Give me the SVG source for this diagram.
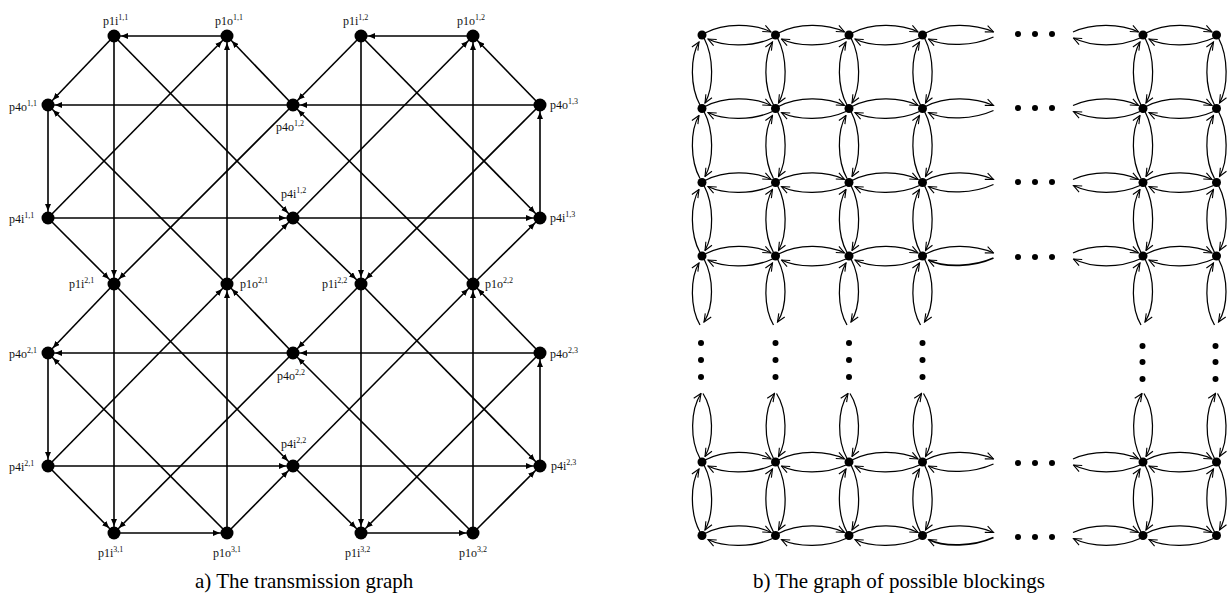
<svg xmlns="http://www.w3.org/2000/svg" xmlns:xlink="http://www.w3.org/1999/xlink" width="1229" height="597" viewBox="0 0 1229 597">
<style>
.e{stroke:#000;stroke-width:1.6;fill:none;marker-end:url(#ah)}
.n{fill:#000}
.lb{font-family:"Liberation Serif","Times New Roman",serif;font-size:12px;fill:#111}
.sp{font-size:8px}
.a{stroke:#000;stroke-width:1.25;fill:none;marker-end:url(#oa)}
.ab{stroke:#000;stroke-width:1.8;fill:none;marker-end:url(#oa)}
.cap{font-family:"Liberation Serif","Times New Roman",serif;font-size:21px;fill:#000}
</style>
<defs>
<marker id="ah" viewBox="0 0 7 6" refX="14" refY="3" markerWidth="7" markerHeight="6" markerUnits="userSpaceOnUse" orient="auto"><path d="M0,0 L7,3 L0,6 z" fill="#000"/></marker>
<marker id="oa" viewBox="-1 -1 10 9" refX="8" refY="3.5" markerWidth="10" markerHeight="9" markerUnits="userSpaceOnUse" orient="auto"><path d="M0,0 L8,3.5 L0,7" fill="none" stroke="#000" stroke-width="1.1"/></marker>
<g id="hp"><path class="a" d="M3,-2 C22,-12 51,-12 69,-3"/><path class="a" d="M70.5,3 C51,12 22,12 6,4"/></g>
<g id="hpR"><path class="a" d="M3,-2 C22,-12 51,-12 71,-3"/><path class="a" d="M71,2 C51,11 22,12 6,4"/></g>
<g id="hpRb"><path class="a" d="M3,-2 C22,-12 51,-12 71,-3"/><path class="ab" d="M71,2 C51,11 22,12 6,4"/></g>
<g id="hpL"><path class="a" d="M3.5,-3 C22,-12 51,-12 69,-3"/><path class="a" d="M70.5,3 C51,12 22,12 4,3"/></g>
<g id="vp"><path class="a" d="M-2,70 C-12,52 -12,22 -3,7"/><path class="a" d="M2,3 C12,22 12,52 3,68"/></g>
<g id="vpD"><path class="a" d="M-2,69 C-12,52 -12,22 -3,7"/><path class="a" d="M2,3 C12,22 12,50 2,66"/></g>
<g id="vpU"><path class="a" d="M-2,70 C-12,52 -12,22 -1,5"/><path class="a" d="M1,5 C12,22 12,52 3,68"/></g>
</defs>

<!-- Left graph: connectors -->
<g id="left-connectors">
<line class="e" x1="114" y1="36" x2="48" y2="105"/>
<line class="e" x1="114" y1="36" x2="114" y2="284"/>
<line class="e" x1="114" y1="36" x2="293" y2="218"/>
<line class="e" x1="293" y1="105" x2="227" y2="36"/>
<line class="e" x1="293" y1="105" x2="48" y2="105"/>
<line class="e" x1="293" y1="105" x2="114" y2="284"/>
<line class="e" x1="48" y1="218" x2="227" y2="36"/>
<line class="e" x1="48" y1="218" x2="293" y2="218"/>
<line class="e" x1="48" y1="218" x2="114" y2="284"/>
<line class="e" x1="227" y1="284" x2="48" y2="105"/>
<line class="e" x1="227" y1="284" x2="227" y2="36"/>
<line class="e" x1="227" y1="284" x2="293" y2="218"/>
<line class="e" x1="227" y1="36" x2="114" y2="36"/>
<line class="e" x1="48" y1="105" x2="48" y2="218"/>

<line class="e" x1="361" y1="36" x2="293" y2="105"/>
<line class="e" x1="361" y1="36" x2="361" y2="284"/>
<line class="e" x1="361" y1="36" x2="540" y2="218"/>
<line class="e" x1="540" y1="105" x2="473" y2="36"/>
<line class="e" x1="540" y1="105" x2="293" y2="105"/>
<line class="e" x1="540" y1="105" x2="361" y2="284"/>
<line class="e" x1="293" y1="218" x2="473" y2="36"/>
<line class="e" x1="293" y1="218" x2="540" y2="218"/>
<line class="e" x1="293" y1="218" x2="361" y2="284"/>
<line class="e" x1="473" y1="284" x2="293" y2="105"/>
<line class="e" x1="473" y1="284" x2="473" y2="36"/>
<line class="e" x1="473" y1="284" x2="540" y2="218"/>
<line class="e" x1="473" y1="36" x2="361" y2="36"/>
<line class="e" x1="540" y1="218" x2="540" y2="105"/>

<line class="e" x1="114" y1="284" x2="48" y2="353"/>
<line class="e" x1="114" y1="284" x2="114" y2="533"/>
<line class="e" x1="114" y1="284" x2="293" y2="466"/>
<line class="e" x1="293" y1="353" x2="227" y2="284"/>
<line class="e" x1="293" y1="353" x2="48" y2="353"/>
<line class="e" x1="293" y1="353" x2="114" y2="533"/>
<line class="e" x1="48" y1="466" x2="227" y2="284"/>
<line class="e" x1="48" y1="466" x2="293" y2="466"/>
<line class="e" x1="48" y1="466" x2="114" y2="533"/>
<line class="e" x1="227" y1="533" x2="48" y2="353"/>
<line class="e" x1="227" y1="533" x2="227" y2="284"/>
<line class="e" x1="227" y1="533" x2="293" y2="466"/>
<line class="e" x1="114" y1="533" x2="227" y2="533"/>
<line class="e" x1="48" y1="353" x2="48" y2="466"/>

<line class="e" x1="361" y1="284" x2="293" y2="353"/>
<line class="e" x1="361" y1="284" x2="361" y2="533"/>
<line class="e" x1="361" y1="284" x2="540" y2="466"/>
<line class="e" x1="540" y1="353" x2="473" y2="284"/>
<line class="e" x1="540" y1="353" x2="293" y2="353"/>
<line class="e" x1="540" y1="353" x2="361" y2="533"/>
<line class="e" x1="293" y1="466" x2="473" y2="284"/>
<line class="e" x1="293" y1="466" x2="540" y2="466"/>
<line class="e" x1="293" y1="466" x2="361" y2="533"/>
<line class="e" x1="473" y1="533" x2="293" y2="353"/>
<line class="e" x1="473" y1="533" x2="473" y2="284"/>
<line class="e" x1="473" y1="533" x2="540" y2="466"/>
<line class="e" x1="361" y1="533" x2="473" y2="533"/>
<line class="e" x1="540" y1="466" x2="540" y2="353"/>
</g>

<!-- Left graph: nodes -->
<g id="p1i-1-1"><circle class="n" cx="114" cy="36" r="6.5"/><text class="lb" x="103" y="25">p1i<tspan class="sp" dy="-5">1,1</tspan></text></g>
<g id="p1o-1-1"><circle class="n" cx="227" cy="36" r="6.5"/><text class="lb" x="215" y="25">p1o<tspan class="sp" dy="-5">1,1</tspan></text></g>
<g id="p1i-1-2"><circle class="n" cx="361" cy="36" r="6.5"/><text class="lb" x="343" y="25">p1i<tspan class="sp" dy="-5">1,2</tspan></text></g>
<g id="p1o-1-2"><circle class="n" cx="473" cy="36" r="6.5"/><text class="lb" x="457" y="25">p1o<tspan class="sp" dy="-5">1,2</tspan></text></g>
<g id="p4o-1-1"><circle class="n" cx="48" cy="105" r="6.5"/><text class="lb" x="9" y="111">p4o<tspan class="sp" dy="-5">1,1</tspan></text></g>
<g id="p4o-1-2"><circle class="n" cx="293" cy="105" r="6.5"/><text class="lb" x="276" y="131">p4o<tspan class="sp" dy="-5">1,2</tspan></text></g>
<g id="p4o-1-3"><circle class="n" cx="540" cy="105" r="6.5"/><text class="lb" x="550" y="109">p4o<tspan class="sp" dy="-5">1,3</tspan></text></g>
<g id="p4i-1-1"><circle class="n" cx="48" cy="218" r="6.5"/><text class="lb" x="9" y="223">p4i<tspan class="sp" dy="-5">1,1</tspan></text></g>
<g id="p4i-1-2"><circle class="n" cx="293" cy="218" r="6.5"/><text class="lb" x="281" y="198">p4i<tspan class="sp" dy="-5">1,2</tspan></text></g>
<g id="p4i-1-3"><circle class="n" cx="540" cy="218" r="6.5"/><text class="lb" x="550" y="222">p4i<tspan class="sp" dy="-5">1,3</tspan></text></g>
<g id="p1i-2-1"><circle class="n" cx="114" cy="284" r="6.5"/><text class="lb" x="69" y="288">p1i<tspan class="sp" dy="-5">2,1</tspan></text></g>
<g id="p1o-2-1"><circle class="n" cx="227" cy="284" r="6.5"/><text class="lb" x="240" y="288">p1o<tspan class="sp" dy="-5">2,1</tspan></text></g>
<g id="p1i-2-2"><circle class="n" cx="361" cy="284" r="6.5"/><text class="lb" x="322" y="288">p1i<tspan class="sp" dy="-5">2,2</tspan></text></g>
<g id="p1o-2-2"><circle class="n" cx="473" cy="284" r="6.5"/><text class="lb" x="485" y="288">p1o<tspan class="sp" dy="-5">2,2</tspan></text></g>
<g id="p4o-2-1"><circle class="n" cx="48" cy="353" r="6.5"/><text class="lb" x="9" y="358">p4o<tspan class="sp" dy="-5">2,1</tspan></text></g>
<g id="p4o-2-2"><circle class="n" cx="293" cy="353" r="6.5"/><text class="lb" x="277" y="380">p4o<tspan class="sp" dy="-5">2,2</tspan></text></g>
<g id="p4o-2-3"><circle class="n" cx="540" cy="353" r="6.5"/><text class="lb" x="550" y="358">p4o<tspan class="sp" dy="-5">2,3</tspan></text></g>
<g id="p4i-2-1"><circle class="n" cx="48" cy="466" r="6.5"/><text class="lb" x="9" y="471">p4i<tspan class="sp" dy="-5">2,1</tspan></text></g>
<g id="p4i-2-2"><circle class="n" cx="293" cy="466" r="6.5"/><text class="lb" x="281" y="448">p4i<tspan class="sp" dy="-5">2,2</tspan></text></g>
<g id="p4i-2-3"><circle class="n" cx="540" cy="466" r="6.5"/><text class="lb" x="551" y="470">p4i<tspan class="sp" dy="-5">2,3</tspan></text></g>
<g id="p1i-3-1"><circle class="n" cx="114" cy="533" r="6.5"/><text class="lb" x="98" y="557">p1i<tspan class="sp" dy="-5">3,1</tspan></text></g>
<g id="p1o-3-1"><circle class="n" cx="227" cy="533" r="6.5"/><text class="lb" x="213" y="557">p1o<tspan class="sp" dy="-5">3,1</tspan></text></g>
<g id="p1i-3-2"><circle class="n" cx="361" cy="533" r="6.5"/><text class="lb" x="345" y="557">p1i<tspan class="sp" dy="-5">3,2</tspan></text></g>
<g id="p1o-3-2"><circle class="n" cx="473" cy="533" r="6.5"/><text class="lb" x="459" y="557">p1o<tspan class="sp" dy="-5">3,2</tspan></text></g>

<!-- Right graph: connectors -->
<g id="right-connectors">
<use href="#hp" x="702" y="35"/><use href="#hp" x="775.5" y="35"/><use href="#hp" x="849" y="35"/><use href="#hpR" x="922.5" y="35"/><use href="#hpL" x="1069.5" y="35"/><use href="#hp" x="1143" y="35"/>
<use href="#hp" x="702" y="108.5"/><use href="#hp" x="775.5" y="108.5"/><use href="#hp" x="849" y="108.5"/><use href="#hpR" x="922.5" y="108.5"/><use href="#hpL" x="1069.5" y="108.5"/><use href="#hp" x="1143" y="108.5"/>
<use href="#hp" x="702" y="182.5"/><use href="#hp" x="775.5" y="182.5"/><use href="#hp" x="849" y="182.5"/><use href="#hpR" x="922.5" y="182.5"/><use href="#hpL" x="1069.5" y="182.5"/><use href="#hp" x="1143" y="182.5"/>
<use href="#hp" x="702" y="256"/><use href="#hp" x="775.5" y="256"/><use href="#hp" x="849" y="256"/><use href="#hpRb" x="922.5" y="256"/><use href="#hpL" x="1069.5" y="256"/><use href="#hp" x="1143" y="256"/>
<use href="#hp" x="702" y="462"/><use href="#hp" x="775.5" y="462"/><use href="#hp" x="849" y="462"/><use href="#hpR" x="922.5" y="462"/><use href="#hpL" x="1069.5" y="462"/><use href="#hp" x="1143" y="462"/>
<use href="#hp" x="702" y="535.5"/><use href="#hp" x="775.5" y="535.5"/><use href="#hp" x="849" y="535.5"/><use href="#hpRb" x="922.5" y="535.5"/><use href="#hpL" x="1069.5" y="535.5"/><use href="#hp" x="1143" y="535.5"/>

<use href="#vp" x="702" y="35"/><use href="#vp" x="702" y="108.5"/><use href="#vp" x="702" y="182.5"/><use href="#vpD" x="702" y="256"/><use href="#vpU" x="702" y="388.5"/><use href="#vp" x="702" y="462"/>
<use href="#vp" x="775.5" y="35"/><use href="#vp" x="775.5" y="108.5"/><use href="#vp" x="775.5" y="182.5"/><use href="#vpD" x="775.5" y="256"/><use href="#vpU" x="775.5" y="388.5"/><use href="#vp" x="775.5" y="462"/>
<use href="#vp" x="849" y="35"/><use href="#vp" x="849" y="108.5"/><use href="#vp" x="849" y="182.5"/><use href="#vpD" x="849" y="256"/><use href="#vpU" x="849" y="388.5"/><use href="#vp" x="849" y="462"/>
<use href="#vp" x="922.5" y="35"/><use href="#vp" x="922.5" y="108.5"/><use href="#vp" x="922.5" y="182.5"/><use href="#vpD" x="922.5" y="256"/><use href="#vpU" x="922.5" y="388.5"/><use href="#vp" x="922.5" y="462"/>
<use href="#vp" x="1143" y="35"/><use href="#vp" x="1143" y="108.5"/><use href="#vp" x="1143" y="182.5"/><use href="#vpD" x="1143" y="256"/><use href="#vpU" x="1143" y="388.5"/><use href="#vp" x="1143" y="462"/>
<use href="#vp" x="1216.5" y="35"/><use href="#vp" x="1216.5" y="108.5"/><use href="#vp" x="1216.5" y="182.5"/><use href="#vpD" x="1216.5" y="256"/><use href="#vpU" x="1216.5" y="388.5"/><use href="#vp" x="1216.5" y="462"/>
</g>

<!-- Right graph: nodes -->
<g id="right-nodes" class="n">
<circle cx="702" cy="35" r="4.5"/><circle cx="775.5" cy="35" r="4.5"/><circle cx="849" cy="35" r="4.5"/><circle cx="922.5" cy="35" r="4.5"/><circle cx="1143" cy="35" r="4.5"/><circle cx="1216.5" cy="35" r="4.5"/>
<circle cx="702" cy="108.5" r="4.5"/><circle cx="775.5" cy="108.5" r="4.5"/><circle cx="849" cy="108.5" r="4.5"/><circle cx="922.5" cy="108.5" r="4.5"/><circle cx="1143" cy="108.5" r="4.5"/><circle cx="1216.5" cy="108.5" r="4.5"/>
<circle cx="702" cy="182.5" r="4.5"/><circle cx="775.5" cy="182.5" r="4.5"/><circle cx="849" cy="182.5" r="4.5"/><circle cx="922.5" cy="182.5" r="4.5"/><circle cx="1143" cy="182.5" r="4.5"/><circle cx="1216.5" cy="182.5" r="4.5"/>
<circle cx="702" cy="256" r="4.5"/><circle cx="775.5" cy="256" r="4.5"/><circle cx="849" cy="256" r="4.5"/><circle cx="922.5" cy="256" r="4.5"/><circle cx="1143" cy="256" r="4.5"/><circle cx="1216.5" cy="256" r="4.5"/>
<circle cx="702" cy="462" r="4.5"/><circle cx="775.5" cy="462" r="4.5"/><circle cx="849" cy="462" r="4.5"/><circle cx="922.5" cy="462" r="4.5"/><circle cx="1143" cy="462" r="4.5"/><circle cx="1216.5" cy="462" r="4.5"/>
<circle cx="702" cy="535.5" r="4.5"/><circle cx="775.5" cy="535.5" r="4.5"/><circle cx="849" cy="535.5" r="4.5"/><circle cx="922.5" cy="535.5" r="4.5"/><circle cx="1143" cy="535.5" r="4.5"/><circle cx="1216.5" cy="535.5" r="4.5"/>
</g>

<!-- Ellipsis dots -->
<g id="dots" fill="#000">
<circle cx="1018" cy="34" r="3"/><circle cx="1035" cy="34" r="3"/><circle cx="1052" cy="34" r="3"/>
<circle cx="1018" cy="108" r="3"/><circle cx="1035" cy="108" r="3"/><circle cx="1052" cy="108" r="3"/>
<circle cx="1018" cy="182" r="3"/><circle cx="1035" cy="182" r="3"/><circle cx="1052" cy="182" r="3"/>
<circle cx="1018" cy="257" r="3"/><circle cx="1035" cy="257" r="3"/><circle cx="1052" cy="257" r="3"/>
<circle cx="1018" cy="463" r="3"/><circle cx="1035" cy="463" r="3"/><circle cx="1052" cy="463" r="3"/>
<circle cx="1018" cy="537" r="3"/><circle cx="1035" cy="537" r="3"/><circle cx="1052" cy="537" r="3"/>
<circle cx="701" cy="343" r="3"/><circle cx="701" cy="360" r="3"/><circle cx="701" cy="377" r="3"/>
<circle cx="775.5" cy="343" r="3"/><circle cx="775.5" cy="360" r="3"/><circle cx="775.5" cy="377" r="3"/>
<circle cx="849" cy="343" r="3"/><circle cx="849" cy="360" r="3"/><circle cx="849" cy="377" r="3"/>
<circle cx="922.5" cy="343" r="3"/><circle cx="922.5" cy="360" r="3"/><circle cx="922.5" cy="377" r="3"/>
<circle cx="1142.5" cy="346" r="3"/><circle cx="1142.5" cy="362" r="3"/><circle cx="1142.5" cy="379" r="3"/>
<circle cx="1215.5" cy="346" r="3"/><circle cx="1215.5" cy="362" r="3"/><circle cx="1215.5" cy="379" r="3"/>
</g>

<!-- Captions -->
<text class="cap" x="195" y="588">a) The transmission graph</text>
<text class="cap" x="753" y="588">b) The graph of possible blockings</text>
</svg>
